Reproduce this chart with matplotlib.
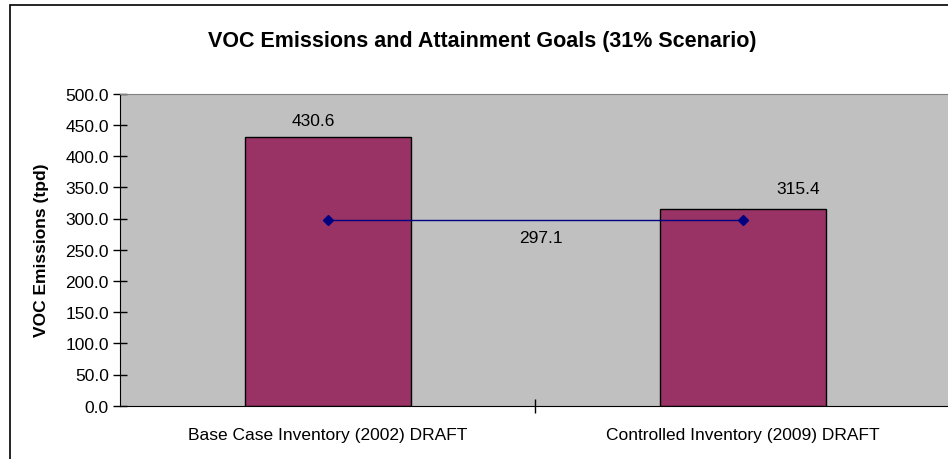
import matplotlib
matplotlib.use("Agg")
import matplotlib.pyplot as plt
from matplotlib.patches import Rectangle

plt.rcParams['font.family'] = ['Liberation Sans', 'DejaVu Sans']

categories = ["Base Case Inventory (2002) DRAFT", "Controlled Inventory (2009) DRAFT"]
emissions = [430.6, 315.4]
goal = [297.1, 297.1]
yticks = [0, 50, 100, 150, 200, 250, 300, 350, 400, 450, 500]

FS = 12.5

fig = plt.figure(figsize=(9.48, 4.6), dpi=100)
fig.patches.append(Rectangle((10/948, -0.1), 2.0, 1 - 6/460 + 0.1, transform=fig.transFigure,
                             fill=False, edgecolor='black', linewidth=1.2))
ax = fig.add_axes([120/948, 1 - 406.7/460, 830/948, (406.7 - 94.7)/460])
ax.set_facecolor('#C0C0C0')
x = list(range(len(categories)))
ax.bar(x, emissions, width=0.4, color='#993366', edgecolor='black', linewidth=1, zorder=2)
ax.plot(x, goal, color='#000080', marker='D', markersize=5, linewidth=1, zorder=3)

# data labels (offsets in pixels)
ax.annotate(f"{emissions[0]:.1f}", (x[0], emissions[0]), xytext=(-14, 17), textcoords='offset pixels',
            ha='center', va='center', fontsize=FS)
ax.annotate(f"{emissions[1]:.1f}", (x[1], emissions[1]), xytext=(56, 20), textcoords='offset pixels',
            ha='center', va='center', fontsize=FS)
ax.annotate(f"{goal[1]:.1f}", (0.5, goal[1]), xytext=(6, -17), textcoords='offset pixels',
            ha='center', va='center', fontsize=FS)

ax.set_xlim(-0.5, 1.5)
ax.set_ylim(0, 500)
ax.set_yticks(yticks)
ax.set_yticklabels([f"{t:.1f}" for t in yticks], fontsize=FS)
ax.set_xticks([0.5])
ax.set_xticklabels([''])
ax.tick_params(axis='x', length=10, direction='inout', width=1)
ax.tick_params(axis='y', length=10, direction='inout', width=1, pad=3)
for xi, c in zip(x, categories):
    ax.annotate(c, (xi, 0), xytext=(0, -29), textcoords='offset pixels',
                ha='center', va='center', fontsize=FS, annotation_clip=False)
ax.spines['top'].set_color('#808080')
ax.spines['right'].set_visible(False)
ax.spines['left'].set_color('black')
ax.spines['bottom'].set_color('black')
ax.set_ylabel("VOC Emissions (tpd)", fontsize=12.5, fontweight='bold')
ax.yaxis.set_label_coords(-(120 - 49) / 830, 0.5)
fig.text(482/948, 1 - 41/460, "VOC Emissions and Attainment Goals (31% Scenario)",
         ha='center', va='center', fontsize=15.5, fontweight='bold')
fig.savefig('out.png', dpi=100)
